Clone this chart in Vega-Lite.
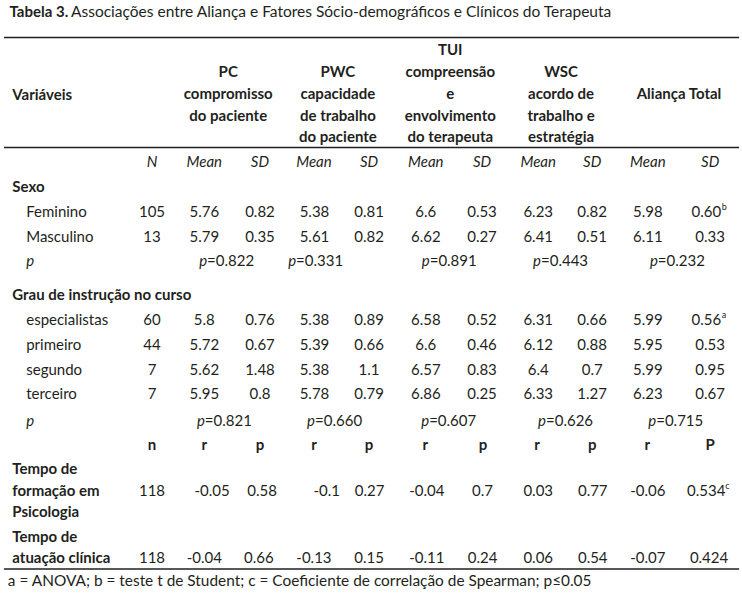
{
  "$schema": "https://vega.github.io/schema/vega-lite/v6.json",
  "width": 742,
  "height": 593,
  "padding": 0,
  "autosize": {"type": "none"},
  "background": "white",
  "config": {
    "view": {"stroke": null},
    "text": {"font": "Lato", "fontSize": 15, "color": "#231f20", "baseline": "middle"}
  },
  "datasets": {
    "lines": [
      {"c": -2.6, "c2": 10.61, "r": 0.04},
      {"c": -2.6, "c2": 10.61, "r": 4.44},
      {"c": -2.6, "c2": 10.61, "r": 21.3}
    ],
    "titleBold": [{"c": -2.5, "r": -1, "t": "Tabela 3."}],
    "titlePlain": [{"c": -1.395, "r": -1, "t": "Associações entre Aliança e Fatores Sócio-demográficos e Clínicos do Terapeuta"}],
    "boldLeft": [
      {"c": -2.45, "r": 2.34, "t": "Variáveis"},
      {"c": -2.45, "r": 6.02, "t": "Sexo"},
      {"c": -2.45, "r": 10.34, "t": "Grau de instrução no curso"},
      {"c": -2.45, "r": 17.3, "t": "Tempo de"},
      {"c": -2.45, "r": 18.18, "t": "formação em"},
      {"c": -2.45, "r": 19.02, "t": "Psicologia"},
      {"c": -2.45, "r": 20.02, "t": "Tempo de"},
      {"c": -2.45, "r": 20.84, "t": "atuação clínica"}
    ],
    "plainLeft": [
      {"c": -2.2, "r": 7, "t": "Feminino"},
      {"c": -2.2, "r": 8, "t": "Masculino"},
      {"c": -2.2, "r": 11.32, "t": "especialistas"},
      {"c": -2.2, "r": 12.34, "t": "primeiro"},
      {"c": -2.2, "r": 13.32, "t": "segundo"},
      {"c": -2.2, "r": 14.3, "t": "terceiro"}
    ],
    "footnote": [
      {"c": -2.53, "r": 21.78, "t": "a = ANOVA; b = teste t de Student; c = Coeficiente de correlação de Spearman; p≤0.05"}
    ],
    "italicLeft": [
      {"c": -2.2, "r": 8.98, "t": "p"},
      {"c": -2.2, "r": 15.36, "t": "p"}
    ],
    "italicCenter": [
      {"c": 0.06, "r": 5, "t": "N"},
      {"c": 1, "r": 5, "t": "Mean"},
      {"c": 2, "r": 5, "t": "SD"},
      {"c": 2.97, "r": 5, "t": "Mean"},
      {"c": 3.96, "r": 5, "t": "SD"},
      {"c": 4.98, "r": 5, "t": "Mean"},
      {"c": 5.99, "r": 5, "t": "SD"},
      {"c": 7, "r": 5, "t": "Mean"},
      {"c": 7.97, "r": 5, "t": "SD"},
      {"c": 8.97, "r": 5, "t": "Mean"},
      {"c": 10.09, "r": 5, "t": "SD"}
    ],
    "boldCenter": [
      {"c": 1.43, "r": 1.42, "t": "PC"},
      {"c": 1.43, "r": 2.3, "t": "compromisso"},
      {"c": 1.43, "r": 3.16, "t": "do paciente"},
      {"c": 3.4, "r": 1.42, "t": "PWC"},
      {"c": 3.4, "r": 2.3, "t": "capacidade"},
      {"c": 3.4, "r": 3.16, "t": "de trabalho"},
      {"c": 3.4, "r": 4.0, "t": "do paciente"},
      {"c": 5.42, "r": 0.54, "t": "TUI"},
      {"c": 5.42, "r": 1.42, "t": "compreensão"},
      {"c": 5.42, "r": 2.3, "t": "e"},
      {"c": 5.42, "r": 3.16, "t": "envolvimento"},
      {"c": 5.42, "r": 4.0, "t": "do terapeuta"},
      {"c": 7.41, "r": 1.42, "t": "WSC"},
      {"c": 7.41, "r": 2.3, "t": "acordo de"},
      {"c": 7.41, "r": 3.16, "t": "trabalho e"},
      {"c": 7.41, "r": 4.0, "t": "estratégia"},
      {"c": 9.53, "r": 2.3, "t": "Aliança Total"},
      {"c": 0.06, "r": 16.34, "t": "n"},
      {"c": 1, "r": 16.34, "t": "r"},
      {"c": 2, "r": 16.34, "t": "p"},
      {"c": 2.97, "r": 16.34, "t": "r"},
      {"c": 3.96, "r": 16.34, "t": "p"},
      {"c": 4.97, "r": 16.34, "t": "r"},
      {"c": 6.01, "r": 16.34, "t": "p"},
      {"c": 6.98, "r": 16.34, "t": "r"},
      {"c": 7.97, "r": 16.34, "t": "p"},
      {"c": 8.96, "r": 16.34, "t": "r"},
      {"c": 10.09, "r": 16.34, "t": "P"}
    ],
    "values": [
      {"c": 0.06, "r": 7, "t": "105"}, {"c": 1, "r": 7, "t": "5.76"}, {"c": 2, "r": 7, "t": "0.82"}, {"c": 2.98, "r": 7, "t": "5.38"}, {"c": 3.96, "r": 7, "t": "0.81"}, {"c": 4.98, "r": 7, "t": "6.6"}, {"c": 5.99, "r": 7, "t": "0.53"}, {"c": 7, "r": 7, "t": "6.23"}, {"c": 7.97, "r": 7, "t": "0.82"}, {"c": 8.97, "r": 7, "t": "5.98"}, {"c": 10.02, "r": 7, "t": "0.60"},
      {"c": 0.06, "r": 8, "t": "13"}, {"c": 1, "r": 8, "t": "5.79"}, {"c": 2, "r": 8, "t": "0.35"}, {"c": 2.98, "r": 8, "t": "5.61"}, {"c": 3.96, "r": 8, "t": "0.82"}, {"c": 4.98, "r": 8, "t": "6.62"}, {"c": 5.99, "r": 8, "t": "0.27"}, {"c": 7, "r": 8, "t": "6.41"}, {"c": 7.97, "r": 8, "t": "0.51"}, {"c": 8.97, "r": 8, "t": "6.11"}, {"c": 10.09, "r": 8, "t": "0.33"},
      {"c": 0.06, "r": 11.32, "t": "60"}, {"c": 1, "r": 11.32, "t": "5.8"}, {"c": 2, "r": 11.32, "t": "0.76"}, {"c": 2.98, "r": 11.32, "t": "5.38"}, {"c": 3.96, "r": 11.32, "t": "0.89"}, {"c": 4.98, "r": 11.32, "t": "6.58"}, {"c": 5.99, "r": 11.32, "t": "0.52"}, {"c": 7, "r": 11.32, "t": "6.31"}, {"c": 7.97, "r": 11.32, "t": "0.66"}, {"c": 8.97, "r": 11.32, "t": "5.99"}, {"c": 10.02, "r": 11.32, "t": "0.56"},
      {"c": 0.06, "r": 12.34, "t": "44"}, {"c": 1, "r": 12.34, "t": "5.72"}, {"c": 2, "r": 12.34, "t": "0.67"}, {"c": 2.98, "r": 12.34, "t": "5.39"}, {"c": 3.96, "r": 12.34, "t": "0.66"}, {"c": 4.98, "r": 12.34, "t": "6.6"}, {"c": 5.99, "r": 12.34, "t": "0.46"}, {"c": 7, "r": 12.34, "t": "6.12"}, {"c": 7.97, "r": 12.34, "t": "0.88"}, {"c": 8.97, "r": 12.34, "t": "5.95"}, {"c": 10.09, "r": 12.34, "t": "0.53"},
      {"c": 0.06, "r": 13.32, "t": "7"}, {"c": 1, "r": 13.32, "t": "5.62"}, {"c": 2, "r": 13.32, "t": "1.48"}, {"c": 2.98, "r": 13.32, "t": "5.38"}, {"c": 3.96, "r": 13.32, "t": "1.1"}, {"c": 4.98, "r": 13.32, "t": "6.57"}, {"c": 5.99, "r": 13.32, "t": "0.83"}, {"c": 7, "r": 13.32, "t": "6.4"}, {"c": 7.97, "r": 13.32, "t": "0.7"}, {"c": 8.97, "r": 13.32, "t": "5.99"}, {"c": 10.09, "r": 13.32, "t": "0.95"},
      {"c": 0.06, "r": 14.3, "t": "7"}, {"c": 1, "r": 14.3, "t": "5.95"}, {"c": 2, "r": 14.3, "t": "0.8"}, {"c": 2.98, "r": 14.3, "t": "5.78"}, {"c": 3.96, "r": 14.3, "t": "0.79"}, {"c": 4.98, "r": 14.3, "t": "6.86"}, {"c": 5.99, "r": 14.3, "t": "0.25"}, {"c": 7, "r": 14.3, "t": "6.33"}, {"c": 7.97, "r": 14.3, "t": "1.27"}, {"c": 8.97, "r": 14.3, "t": "6.23"}, {"c": 10.09, "r": 14.3, "t": "0.67"},
      {"c": 0.06, "r": 18.18, "t": "118"}, {"c": 1.14, "r": 18.18, "t": "-0.05"}, {"c": 2.04, "r": 18.18, "t": "0.58"}, {"c": 3.2, "r": 18.18, "t": "-0.1"}, {"c": 3.97, "r": 18.18, "t": "0.27"}, {"c": 5, "r": 18.18, "t": "-0.04"}, {"c": 6, "r": 18.18, "t": "0.7"}, {"c": 7, "r": 18.18, "t": "0.03"}, {"c": 7.98, "r": 18.18, "t": "0.77"}, {"c": 8.97, "r": 18.18, "t": "-0.06"}, {"c": 10.02, "r": 18.18, "t": "0.534"},
      {"c": 0.06, "r": 20.84, "t": "118"}, {"c": 1, "r": 20.84, "t": "-0.04"}, {"c": 1.98, "r": 20.84, "t": "0.66"}, {"c": 2.97, "r": 20.84, "t": "-0.13"}, {"c": 3.96, "r": 20.84, "t": "0.15"}, {"c": 5, "r": 20.84, "t": "-0.11"}, {"c": 6, "r": 20.84, "t": "0.24"}, {"c": 7, "r": 20.84, "t": "0.06"}, {"c": 7.98, "r": 20.84, "t": "0.54"}, {"c": 8.97, "r": 20.84, "t": "-0.07"}, {"c": 10.07, "r": 20.84, "t": "0.424"}
    ],
    "pItalic": [
      {"c": 1.05, "r": 8.98, "t": "p"}, {"c": 2.65, "r": 8.98, "t": "p"}, {"c": 5.05, "r": 8.98, "t": "p"}, {"c": 7.05, "r": 8.98, "t": "p"}, {"c": 9.15, "r": 8.98, "t": "p"},
      {"c": 1.01, "r": 15.36, "t": "p"}, {"c": 2.99, "r": 15.36, "t": "p"}, {"c": 5.04, "r": 15.36, "t": "p"}, {"c": 7.14, "r": 15.36, "t": "p"}, {"c": 9.12, "r": 15.36, "t": "p"}
    ],
    "pValue": [
      {"c": 1.05, "r": 8.98, "t": "=0.822"}, {"c": 2.65, "r": 8.98, "t": "=0.331"}, {"c": 5.05, "r": 8.98, "t": "=0.891"}, {"c": 7.05, "r": 8.98, "t": "=0.443"}, {"c": 9.15, "r": 8.98, "t": "=0.232"},
      {"c": 1.01, "r": 15.36, "t": "=0.821"}, {"c": 2.99, "r": 15.36, "t": "=0.660"}, {"c": 5.04, "r": 15.36, "t": "=0.607"}, {"c": 7.14, "r": 15.36, "t": "=0.626"}, {"c": 9.12, "r": 15.36, "t": "=0.715"}
    ],
    "sup": [
      {"c": 10.3, "r": 7, "t": "b"},
      {"c": 10.3, "r": 11.32, "t": "a"},
      {"c": 10.36, "r": 18.18, "t": "c"}
    ]
  },
  "encoding": {
    "x": {"field": "c", "type": "quantitative", "axis": null, "scale": {"domain": [-2.671, 10.662], "nice": false, "zero": false}},
    "y": {"field": "r", "type": "quantitative", "axis": null, "scale": {"domain": [-1.46, 22.26], "reverse": true, "nice": false, "zero": false}}
  },
  "layer": [
    {"data": {"name": "lines"}, "mark": {"type": "rule", "color": "#231f20", "strokeWidth": 1.3}, "encoding": {"x2": {"field": "c2"}}},
    {"data": {"name": "titleBold"}, "mark": {"type": "text", "align": "left", "fontWeight": "bold"}, "encoding": {"text": {"field": "t"}}},
    {"data": {"name": "titlePlain"}, "mark": {"type": "text", "align": "left", "fontSize": 15.5}, "encoding": {"text": {"field": "t"}}},
    {"data": {"name": "boldLeft"}, "mark": {"type": "text", "align": "left", "fontWeight": "bold"}, "encoding": {"text": {"field": "t"}}},
    {"data": {"name": "plainLeft"}, "mark": {"type": "text", "align": "left"}, "encoding": {"text": {"field": "t"}}},
    {"data": {"name": "footnote"}, "mark": {"type": "text", "align": "left", "fontSize": 15.4}, "encoding": {"text": {"field": "t"}}},
    {"data": {"name": "italicLeft"}, "mark": {"type": "text", "align": "left", "fontStyle": "italic"}, "encoding": {"text": {"field": "t"}}},
    {"data": {"name": "italicCenter"}, "mark": {"type": "text", "align": "center", "fontStyle": "italic"}, "encoding": {"text": {"field": "t"}}},
    {"data": {"name": "boldCenter"}, "mark": {"type": "text", "align": "center", "fontWeight": "bold"}, "encoding": {"text": {"field": "t"}}},
    {"data": {"name": "values"}, "mark": {"type": "text", "align": "center"}, "encoding": {"text": {"field": "t"}}},
    {"data": {"name": "pItalic"}, "mark": {"type": "text", "align": "right", "fontStyle": "italic"}, "encoding": {"text": {"field": "t"}}},
    {"data": {"name": "pValue"}, "mark": {"type": "text", "align": "left"}, "encoding": {"text": {"field": "t"}}},
    {"data": {"name": "sup"}, "mark": {"type": "text", "align": "left", "fontSize": 9, "dy": -5}, "encoding": {"text": {"field": "t"}}}
  ]
}
